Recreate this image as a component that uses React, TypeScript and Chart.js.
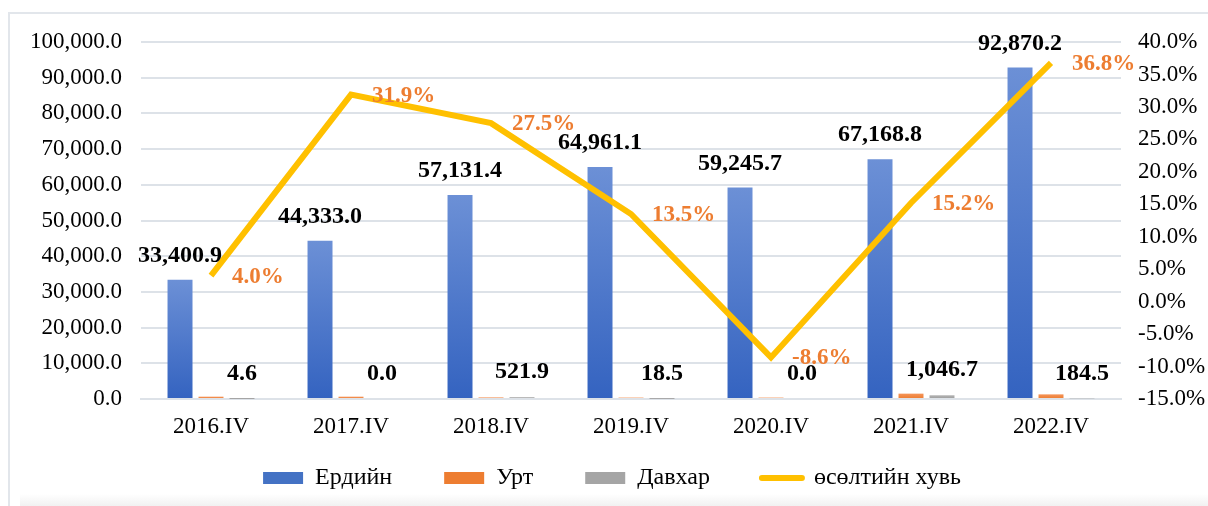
import React, { useEffect, useRef } from 'react';
import { Chart, registerables } from 'chart.js';

Chart.register(...registerables);

// ---- data ----
const categories = ['2016.IV', '2017.IV', '2018.IV', '2019.IV', '2020.IV', '2021.IV', '2022.IV'];
const erdiin = [33400.9, 44333.0, 57131.4, 64961.1, 59245.7, 67168.8, 92870.2];
const urt = [650, 650, 450, 400, 400, 1500, 1300];
const davkhar = [4.6, 0.0, 521.9, 18.5, 0.0, 1046.7, 184.5];
const growth = [4.0, 31.9, 27.5, 13.5, -8.6, 15.2, 36.8];
const seriesNames = ['Ердийн', 'Урт', 'Давхар', 'өсөлтийн хувь'];
const leftMin = 0;
const leftMax = 100000;
const leftStep = 10000;
const rightMin = -15;
const rightMax = 40;
const rightStep = 5;

const FONT = "'Liberation Serif', 'Times New Roman', 'DejaVu Serif', serif";
const BLUE = '#4472C4';
const ORANGE = '#ED7D31';
const GRAY = '#A5A5A5';
const GOLD = '#FFC000';
const GRID = '#DDE2E8';

const fmtNum = (v: number) =>
  v.toLocaleString('en-US', { minimumFractionDigits: 1, maximumFractionDigits: 1 });
const fmtPct = (v: number) => v.toFixed(1) + '%';

const barGradient = (top: string, bottom: string, fallback: string) => (ctx: any) => {
  const chart = ctx.chart;
  const ys = chart.scales && chart.scales.y;
  if (ctx.type !== 'data' || !ys || !chart.chartArea) return fallback;
  const t = ys.getPixelForValue(ctx.raw as number);
  const b = ys.getPixelForValue(0);
  if (!isFinite(t) || !isFinite(b) || Math.abs(b - t) < 1) return fallback;
  const g = chart.ctx.createLinearGradient(0, t, 0, b);
  g.addColorStop(0, top);
  g.addColorStop(1, bottom);
  return g;
};

const LEGEND_PAD = 52;
const LEGEND_FONT = 24;
const LEGEND_CENTER_Y = 478;
const X_AXIS_H = 44;
const PLOT_BOTTOM = 399;
const CANVAS_H = 506;

const legendPlacePlugin = {
  id: 'legendPlace',
  beforeInit(chart: any) {
    const legend = chart.legend;
    if (!legend) return;
    const orig = legend.fit;
    legend.fit = function () {
      orig.call(this);
      this.height = CANVAS_H - PLOT_BOTTOM - X_AXIS_H;
    };
  },
  afterLayout(chart: any) {
    const legend = chart.legend;
    if (!legend) return;
    legend.top = LEGEND_CENTER_Y - LEGEND_PAD - LEGEND_FONT / 2;
    legend.bottom = CANVAS_H;
    legend.height = legend.bottom - legend.top;
  },
};

const valueLabelsPlugin = {
  id: 'valueLabels',
  afterDatasetsDraw(chart: any) {
    const ctx = chart.ctx;
    ctx.save();
    ctx.textBaseline = 'middle';
    const m0 = chart.getDatasetMeta(0);
    ctx.font = `bold 24px ${FONT}`;
    ctx.fillStyle = '#000';
    ctx.textAlign = 'center';
    m0.data.forEach((el: any, i: number) => {
      ctx.fillText(fmtNum(erdiin[i]), el.x, el.y - 24);
    });
    const m2 = chart.getDatasetMeta(2);
    m2.data.forEach((el: any, i: number) => {
      ctx.fillText(fmtNum(davkhar[i]), el.x, el.y - 25);
    });
    const m3 = chart.getDatasetMeta(3);
    ctx.font = `bold 23px ${FONT}`;
    ctx.fillStyle = ORANGE;
    ctx.textAlign = 'left';
    m3.data.forEach((el: any, i: number) => {
      ctx.fillText(fmtPct(growth[i]), el.x + 21, el.y + 1);
    });
    ctx.restore();
  },
};

export default function App() {
  const canvasRef = useRef<HTMLCanvasElement | null>(null);

  useEffect(() => {
    const canvas = canvasRef.current;
    if (!canvas) return;
    const chart = new Chart(canvas, {
      type: 'bar',
      data: {
        labels: categories,
        datasets: [
          {
            type: 'bar',
            label: seriesNames[0],
            data: erdiin,
            backgroundColor: barGradient('#6C90D6', '#3463C0', BLUE),
            yAxisID: 'y',
            order: 1,
            barPercentage: 0.806,
            categoryPercentage: 0.664,
          },
          {
            type: 'bar',
            label: seriesNames[1],
            data: urt,
            backgroundColor: barGradient('#F5955A', '#EC7A2C', ORANGE),
            yAxisID: 'y',
            order: 1,
            barPercentage: 0.806,
            categoryPercentage: 0.664,
          },
          {
            type: 'bar',
            label: seriesNames[2],
            data: davkhar,
            backgroundColor: barGradient('#B4B4B4', '#9A9A9A', GRAY),
            yAxisID: 'y',
            order: 1,
            barPercentage: 0.806,
            categoryPercentage: 0.664,
          },
          {
            type: 'line',
            label: seriesNames[3],
            data: growth,
            borderColor: GOLD,
            backgroundColor: GOLD,
            borderWidth: 6,
            pointRadius: 0,
            pointHoverRadius: 0,
            tension: 0,
            yAxisID: 'y1',
            order: 0,
            borderJoinStyle: 'miter',
          } as any,
        ],
      },
      options: {
        responsive: false,
        animation: false,
        events: [],
        layout: { padding: { top: 42, left: 16, right: 0, bottom: 0 } },
        plugins: {
          tooltip: { enabled: false },
          legend: {
            position: 'bottom',
            labels: {
              usePointStyle: true,
              pointStyleWidth: 40,
              boxHeight: 12,
              padding: LEGEND_PAD,
              color: '#000',
              font: { family: FONT, size: LEGEND_FONT },
              generateLabels(chart: any) {
                const colors = [BLUE, ORANGE, GRAY, GOLD];
                return chart.data.datasets.map((ds: any, i: number) => {
                  const isLine = i === 3;
                  return {
                    text: ds.label,
                    datasetIndex: i,
                    fillStyle: colors[i],
                    strokeStyle: colors[i],
                    lineWidth: isLine ? 6 : 0,
                    lineCap: 'round',
                    pointStyle: isLine ? 'line' : 'rect',
                    hidden: false,
                    fontColor: '#000',
                  };
                });
              },
            },
          },
        },
        scales: {
          x: {
            grid: { display: false, drawTicks: false },
            border: { display: true, color: GRID, width: 2 },
            ticks: { color: '#000', font: { family: FONT, size: 23 }, padding: 14, maxRotation: 0 },
            afterFit(scale: any) {
              scale.height = X_AXIS_H;
            },
          },
          y: {
            position: 'left',
            min: leftMin,
            max: leftMax,
            grid: { color: GRID, lineWidth: 2, drawTicks: false },
            border: { display: false },
            ticks: {
              stepSize: leftStep,
              color: '#000',
              padding: 19,
              font: { family: FONT, size: 23 },
              callback: (v: any) => fmtNum(Number(v)),
            },
            afterFit(scale: any) {
              scale.width = 141 - 16;
            },
          },
          y1: {
            position: 'right',
            min: rightMin,
            max: rightMax,
            grid: { display: false, drawTicks: false },
            border: { display: false },
            ticks: {
              stepSize: rightStep,
              color: '#000',
              padding: 17,
              font: { family: FONT, size: 23 },
              callback: (v: any) => fmtPct(Number(v)),
            },
            afterFit(scale: any) {
              scale.width = 1208 - 1121;
            },
          },
        },
      } as any,
      plugins: [legendPlacePlugin, valueLabelsPlugin],
    });
    return () => chart.destroy();
  }, []);

  return (
    <div>
      <div
        style={{
          position: 'absolute',
          left: 8,
          top: 12,
          width: 1200,
          height: 494,
          borderLeft: '2px solid #E2E6EB',
          borderTop: '2px solid #E2E6EB',
          boxSizing: 'border-box',
        }}
      />
      <div
        style={{
          position: 'absolute',
          left: 20,
          top: 494,
          width: 1188,
          height: 12,
          background: 'linear-gradient(#ffffff, #f1f1f1)',
        }}
      />
      <canvas
        ref={canvasRef}
        width={1208}
        height={506}
        style={{ position: 'absolute', left: 0, top: 0, width: 1208, height: 506 }}
      />
    </div>
  );
}
